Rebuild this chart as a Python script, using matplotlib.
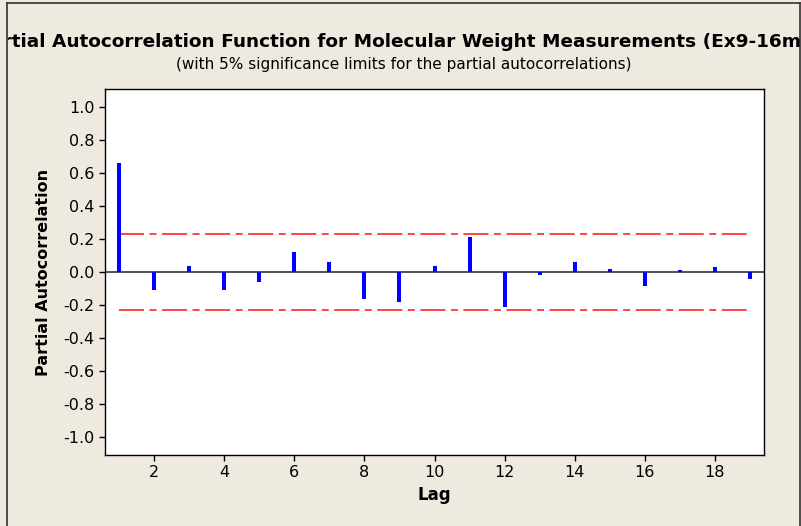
import matplotlib
matplotlib.use("Agg")
import matplotlib.pyplot as plt
from matplotlib.lines import Line2D
from matplotlib.patches import Rectangle

lags = list(range(1, 20))
pacf = [0.66, -0.11, 0.038, -0.11, -0.063, 0.121, 0.062, -0.164, -0.18, 0.038,
        0.214, -0.21, -0.02, 0.062, 0.02, -0.087, 0.014, 0.03, -0.045]
limit = 0.233
xticks = [2, 4, 6, 8, 10, 12, 14, 16, 18]
yticks = [-1.0, -0.8, -0.6, -0.4, -0.2, 0.0, 0.2, 0.4, 0.6, 0.8, 1.0]

plt.rcParams['font.family'] = 'DejaVu Sans'
plt.rcParams['lines.scale_dashes'] = False

bg = '#EEEAE0'
fig = plt.figure(figsize=(8.01, 5.26), dpi=100, facecolor=bg)
ax = fig.add_axes([105/801, 1 - 455/526, (764 - 105)/801, (455 - 89)/526])
ax.set_facecolor('white')

# significance limits
for y in (limit, -limit):
    ax.plot([lags[0], lags[-1]], [y, y], color='#FF4444', lw=1.4,
            dashes=(18, 4, 5, 4))
ax.axhline(0, color='#333333', lw=1.2, zorder=2)
ax.vlines(lags, 0, pacf, color='#0000FF', lw=2.9, zorder=3)

ax.set_xlim(0.6, 19.4)
ax.set_ylim(-1.11, 1.11)
ax.set_xticks(xticks)
ax.set_yticks(yticks)
ax.set_yticklabels(['%.1f' % v for v in yticks])
ax.tick_params(direction='out', length=4, width=1, labelsize=11.5, colors='black')
for s in ax.spines.values():
    s.set_color('black')
    s.set_linewidth(1)

ax.set_xlabel('Lag', fontsize=12, fontweight='bold', labelpad=4)
ax.set_ylabel('Partial Autocorrelation', fontsize=11.5, fontweight='bold', labelpad=9)

title = fig.text(406/801, 1 - 42/526,
                 'Partial Autocorrelation Function for Molecular Weight Measurements (Ex9-16mod)',
                 ha='center', va='center', fontsize=13.3, fontweight='bold')
clip = Rectangle((8/801, 0), 1, 1, transform=fig.transFigure, visible=False)
fig.add_artist(clip)
title.set_clip_path(clip)
fig.text(404/801, 1 - 64/526, '(with 5% significance limits for the partial autocorrelations)',
         ha='center', va='center', fontsize=11)

# outer frame
fig.add_artist(Line2D([7/801, 7/801], [0, 1 - 3/526], transform=fig.transFigure, color='#333333', lw=1.2))
fig.add_artist(Line2D([7/801, 800/801], [1 - 3/526, 1 - 3/526], transform=fig.transFigure, color='#333333', lw=1.2))
fig.add_artist(Line2D([800/801, 800/801], [0, 1 - 3/526], transform=fig.transFigure, color='#333333', lw=1.2))

fig.savefig('out.png', dpi=100, facecolor=bg)
